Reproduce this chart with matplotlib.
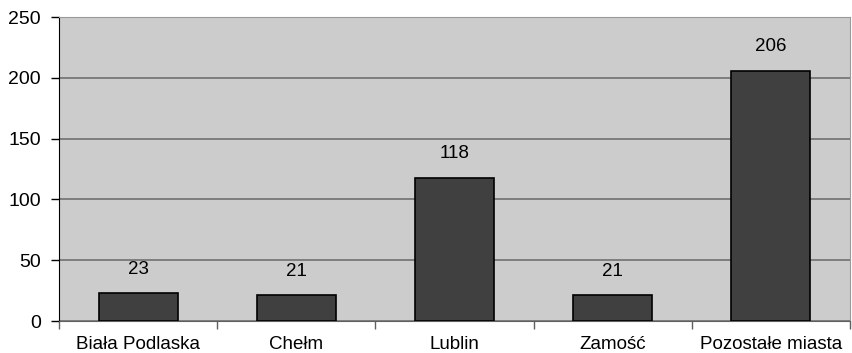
import matplotlib.pyplot as plt
import numpy as np

cities = ['Biała Podlaska', 'Chełm', 'Lublin', 'Zamość', 'Pozostałe miasta']
counts = [23, 21, 118, 21, 206]
y_ticks = [0, 50, 100, 150, 200, 250]

plt.rcParams['font.family'] = ['Liberation Sans', 'DejaVu Sans']

fig = plt.figure(figsize=(8.52, 3.53), dpi=100)
ax = fig.add_axes([59 / 852, 32 / 353, 791 / 852, 304 / 353])
ax.set_facecolor('#cccccc')

x = np.arange(len(cities))
bars = ax.bar(x, counts, width=0.5, color='#404040', edgecolor='black', linewidth=1.2, zorder=3)

# value labels above each bar
for xi, v in zip(x, counts):
    ax.annotate(str(v), (xi, v), xytext=(0, 17), textcoords='offset points',
                ha='center', va='center', fontsize=13.5)

ax.set_xlim(-0.5, len(cities) - 0.5)
ax.set_ylim(0, 250)
ax.set_yticks(y_ticks)
ax.yaxis.grid(True, color='#777777', linewidth=1.3, zorder=1)
ax.set_axisbelow(True)

# category labels centred, ticks on category boundaries
ax.set_xticks(x)
ax.set_xticklabels(cities, fontsize=13.5)
ax.tick_params(axis='x', length=0, pad=11)
ax.set_xticks(np.arange(len(cities) + 1) - 0.5, minor=True)
ax.tick_params(axis='x', which='minor', length=6, color='#606060', width=1)
ax.tick_params(axis='y', length=6, width=1, labelsize=14, pad=7)

for side in ['top', 'right']:
    ax.spines[side].set_color('#999999')
ax.spines['bottom'].set_color('#606060')
ax.spines['left'].set_color('black')

fig.savefig('out.png', dpi=100)
